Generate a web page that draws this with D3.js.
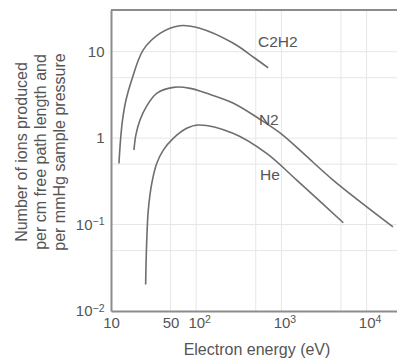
<!DOCTYPE html>
<html>
<head>
<meta charset="utf-8">
<script src="https://cdn.jsdelivr.net/npm/d3@7"></script>
<style>
  body { margin: 0; background: #fff; }
  svg { display: block; font-family: "Liberation Sans", Arial, sans-serif; }
</style>
</head>
<body>
<div id="chart"></div>
<script>
// curves: energy (eV) vs ions per cm per mmHg
const c2h2E = [12.4, 12.93, 13.65, 15.0, 17.5, 23.9, 37.6, 64, 110, 270, 490, 700];
const c2h2V = [0.51, 0.95, 1.62, 2.76, 4.7, 10.5, 16.3, 20, 18.7, 12.6, 8.4, 6.5];

const n2E = [18.6, 19.6, 21.9, 25.8, 34.4, 54, 85, 133, 270, 531, 964, 1800, 4040, 20400];
const n2V = [0.73, 1.09, 1.62, 2.29, 3.3, 3.87, 3.77, 3.3, 2.55, 1.71, 1.15, 0.67, 0.327, 0.094];

const heE = [25.5, 26.2, 27.4, 30.1, 34.4, 41.1, 53.8, 77.3, 106, 270, 671, 1514, 5330];
const heV = [0.0203, 0.0606, 0.147, 0.30, 0.51, 0.728, 0.995, 1.30, 1.42, 1.14, 0.667, 0.327, 0.105];

const seriesNames = ["C2H2", "N2", "He"];
// label anchor points in data units
const labelE = [531, 545, 560];
const labelV = [11.3, 1.42, 0.327];

const xTicks = [10, 50, 100, 1000, 10000];
const xTickText = [["10", ""], ["50", ""], ["10", "2"], ["10", "3"], ["10", "4"]];
const yTicks = [0.01, 0.1, 1, 10];
const yTickText = [["10", "\u22122"], ["10", "\u22121"], ["1", ""], ["10", ""]];

const xGrid = [50, 100, 500, 1000, 5000, 10000];
const yGrid = [0.05, 0.1, 0.5, 1, 5, 10];

const W = 397, H = 360;
const mLeft = 111, mTop = 10, mBottom = 311;

const svg = d3.select("#chart").append("svg")
    .attr("width", W)
    .attr("height", H);

const x = d3.scaleLog().domain([10, 22750]).range([mLeft, W]);
const y = d3.scaleLog().domain([0.01, 30.4]).range([mBottom, mTop]);

// grid
svg.append("g").selectAll("line").data(xGrid).join("line")
    .attr("x1", d => x(d)).attr("x2", d => x(d))
    .attr("y1", mTop).attr("y2", mBottom)
    .attr("stroke", "#e6e6e6").attr("stroke-width", 1);
svg.append("g").selectAll("line").data(yGrid).join("line")
    .attr("x1", mLeft).attr("x2", W)
    .attr("y1", d => y(d)).attr("y2", d => y(d))
    .attr("stroke", "#e6e6e6").attr("stroke-width", 1);

// top border
svg.append("line")
    .attr("x1", mLeft).attr("x2", W)
    .attr("y1", y(30.4)).attr("y2", y(30.4))
    .attr("stroke", "#8c8c8c").attr("stroke-width", 2);

// axes
const xAxis = d3.axisBottom(x).tickValues(xTicks).tickSize(0).tickPadding(6).tickFormat("");
const gx = svg.append("g")
    .attr("transform", "translate(0," + mBottom + ")")
    .call(xAxis);
gx.select(".domain").attr("stroke", "#8c8c8c").attr("stroke-width", 2);
gx.selectAll(".tick text").each(function (d, i) {
    const t = d3.select(this)
        .attr("fill", "#555")
        .attr("font-size", 15);
    const parts = xTickText[i];
    t.append("tspan").text(parts[0]);
    if (parts[1]) {
        t.attr("dx", "0.2em");
        t.append("tspan").attr("dy", "-0.45em").attr("font-size", "0.7em").text(parts[1]);
    }
});

const yAxis = d3.axisLeft(y).tickValues(yTicks).tickSize(0).tickPadding(6.5).tickFormat("");
const gy = svg.append("g")
    .attr("transform", "translate(" + mLeft + ",0)")
    .call(yAxis);
gy.select(".domain").attr("stroke", "#8c8c8c").attr("stroke-width", 2);
gy.selectAll(".tick text").each(function (d, i) {
    const t = d3.select(this)
        .attr("fill", "#555")
        .attr("font-size", 15);
    const parts = yTickText[i];
    t.append("tspan").text(parts[0]);
    if (parts[1]) {
        t.append("tspan").attr("dy", "-0.45em").attr("font-size", "0.7em").text(parts[1]);
    }
});
svg.selectAll("g[font-family]").attr("font-family", null);

// curves
const line = d3.line()
    .x(d => x(d[0]))
    .y(d => y(d[1]))
    .curve(d3.curveCatmullRom.alpha(0.5));

const allSeries = [
    d3.zip(c2h2E, c2h2V),
    d3.zip(n2E, n2V),
    d3.zip(heE, heV)
];

svg.append("g").selectAll("path").data(allSeries).join("path")
    .attr("d", line)
    .attr("fill", "none")
    .attr("stroke", "#6e6e6e")
    .attr("stroke-width", 1.6);

// series labels
svg.append("g").selectAll("text").data(seriesNames).join("text")
    .attr("x", (d, i) => x(labelE[i]))
    .attr("y", (d, i) => y(labelV[i]))
    .attr("font-size", 15.5)
    .attr("fill", "#555")
    .text(d => d);

// axis titles
svg.append("text")
    .attr("x", 257)
    .attr("y", 355)
    .attr("text-anchor", "middle")
    .attr("font-size", 16)
    .attr("fill", "#555")
    .text("Electron energy (eV)");

const yTitle = ["Number of ions produced", "per cm free path length and", "per mmHg sample pressure"];
svg.append("g").selectAll("text").data(yTitle).join("text")
    .attr("transform", (d, i) => "translate(" + (27 + i * 19) + ",152) rotate(-90)")
    .attr("text-anchor", "middle")
    .attr("font-size", 16)
    .attr("fill", "#555")
    .text(d => d);
</script>
</body>
</html>
